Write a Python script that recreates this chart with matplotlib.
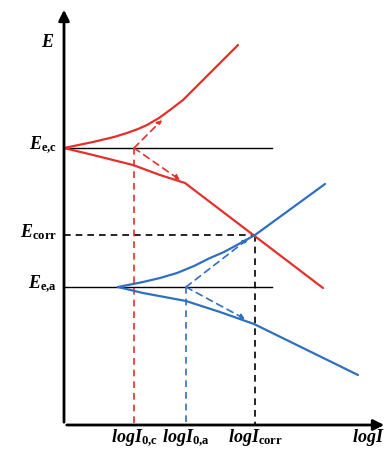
import matplotlib
matplotlib.use("Agg")
import matplotlib.pyplot as plt

plt.rcParams['mathtext.fontset'] = 'custom'
plt.rcParams['mathtext.rm'] = 'Liberation Serif:bold'
plt.rcParams['mathtext.it'] = 'Liberation Serif:bold:italic'
plt.rcParams['mathtext.bf'] = 'Liberation Serif:bold'

# Equilibrium / corrosion potentials and currents (arbitrary units)
E_ec = 27.7
E_corr = 19.0
E_ea = 13.8
logI0c = 7.0
logI0a = 12.2
logIcorr = 19.1

# Red (cathodic-reaction electrode) polarization curves
red_up_x = [0, 2.9, 5.0, 6.3, 7.4, 8.3, 9.5, 10.6, 11.9, 17.4]
red_up_y = [27.7, 28.3, 28.8, 29.2, 29.6, 30.0, 30.7, 31.5, 32.5, 38.0]
red_dn_x = [0, 2.9, 6.9, 9.6, 12.1, 25.9]
red_dn_y = [27.7, 27.0, 26.0, 25.0, 24.2, 13.7]
red_tafel_ends = [(9.8, 30.5), (11.6, 24.5)]

# Blue (anodic-reaction electrode) polarization curves
blue_up_x = [5.4, 7.9, 9.6, 11.3, 13.0, 14.6, 16.0, 17.3, 19.1, 26.1]
blue_up_y = [13.8, 14.3, 14.7, 15.2, 15.9, 16.7, 17.3, 18.0, 19.0, 24.1]
blue_dn_x = [5.4, 7.9, 12.2, 15.6, 19.0, 29.4]
blue_dn_y = [13.8, 13.2, 12.4, 11.3, 10.1, 5.0]
blue_tafel_ends = [(18.4, 18.6), (18.1, 10.6)]

x_tick_labels = [r'$logI_{\rm 0{,}c}$', r'$logI_{\rm 0{,}a}$', r'$logI_{\rm corr}$']
y_tick_labels = [r'$E_{\rm e{,}c}$', r'$E_{\rm corr}$', r'$E_{\rm e{,}a}$']

red = '#e3302b'
blue = '#2f6fc0'

fig = plt.figure(figsize=(3.87, 4.59), dpi=100)
ax = fig.add_axes([0, 0, 1, 1])
ax.set_xlim(-6.4, 32.3)
ax.set_ylim(-3.4, 42.5)
ax.axis('off')

# axes with arrows
ax.annotate('', xy=(0, 41.8), xytext=(0, 0),
            arrowprops=dict(arrowstyle='-|>', lw=2.0, color='black', mutation_scale=16))
ax.annotate('', xy=(32.3, 0), xytext=(0, 0),
            arrowprops=dict(arrowstyle='-|>', lw=2.0, color='black', mutation_scale=16))

# equilibrium horizontal lines
ax.plot([0, 20.8], [E_ec, E_ec], color='black', lw=1.0)
ax.plot([0.0, 20.8], [E_ea, E_ea], color='black', lw=1.0)

# corrosion dashed lines
ax.plot([0, logIcorr], [E_corr, E_corr], color='black', lw=1.2, ls=(0, (4, 3)))
ax.plot([logIcorr, logIcorr], [E_corr, 0], color='black', lw=1.2, ls=(0, (4, 3)))

# exchange current dashed verticals
ax.plot([logI0c, logI0c], [E_ec, 0], color=red, lw=1.2, ls=(0, (4, 3)))
ax.plot([logI0a, logI0a], [E_ea, 0], color=blue, lw=1.2, ls=(0, (4, 3)))

# curves
kw = dict(lw=1.6, solid_joinstyle='round', solid_capstyle='round')
ax.plot(red_up_x, red_up_y, color=red, **kw)
ax.plot(red_dn_x, red_dn_y, color=red, **kw)
ax.plot(blue_up_x, blue_up_y, color=blue, **kw)
ax.plot(blue_dn_x, blue_dn_y, color=blue, **kw)

# Tafel extrapolation dashed arrows
for (xe, ye) in red_tafel_ends:
    ax.annotate('', xy=(xe, ye), xytext=(logI0c, E_ec),
                arrowprops=dict(arrowstyle='-|>', lw=1.2, color=red, ls=(0, (4, 3)),
                                mutation_scale=7, shrinkA=0, shrinkB=0))
for (xe, ye) in blue_tafel_ends:
    ax.annotate('', xy=(xe, ye), xytext=(logI0a, E_ea),
                arrowprops=dict(arrowstyle='-|>', lw=1.2, color=blue, ls=(0, (4, 3)),
                                mutation_scale=7, shrinkA=0, shrinkB=0))

fs = 13
ax.text(-1.0, 38.3, r'$E$', fontsize=fs, ha='right', va='center')
for yv, lab in zip([E_ec, E_corr, E_ea], y_tick_labels):
    ax.text(-0.7, yv + 0.3, lab, fontsize=fs, ha='right', va='center')
for xv, lab in zip([logI0c, logI0a, logIcorr], x_tick_labels):
    ax.text(xv, -1.3, lab, fontsize=fs, ha='center', va='center')
ax.text(32.1, -1.3, r'$logI$', fontsize=fs, ha='right', va='center')

fig.savefig('out.png', dpi=100)
